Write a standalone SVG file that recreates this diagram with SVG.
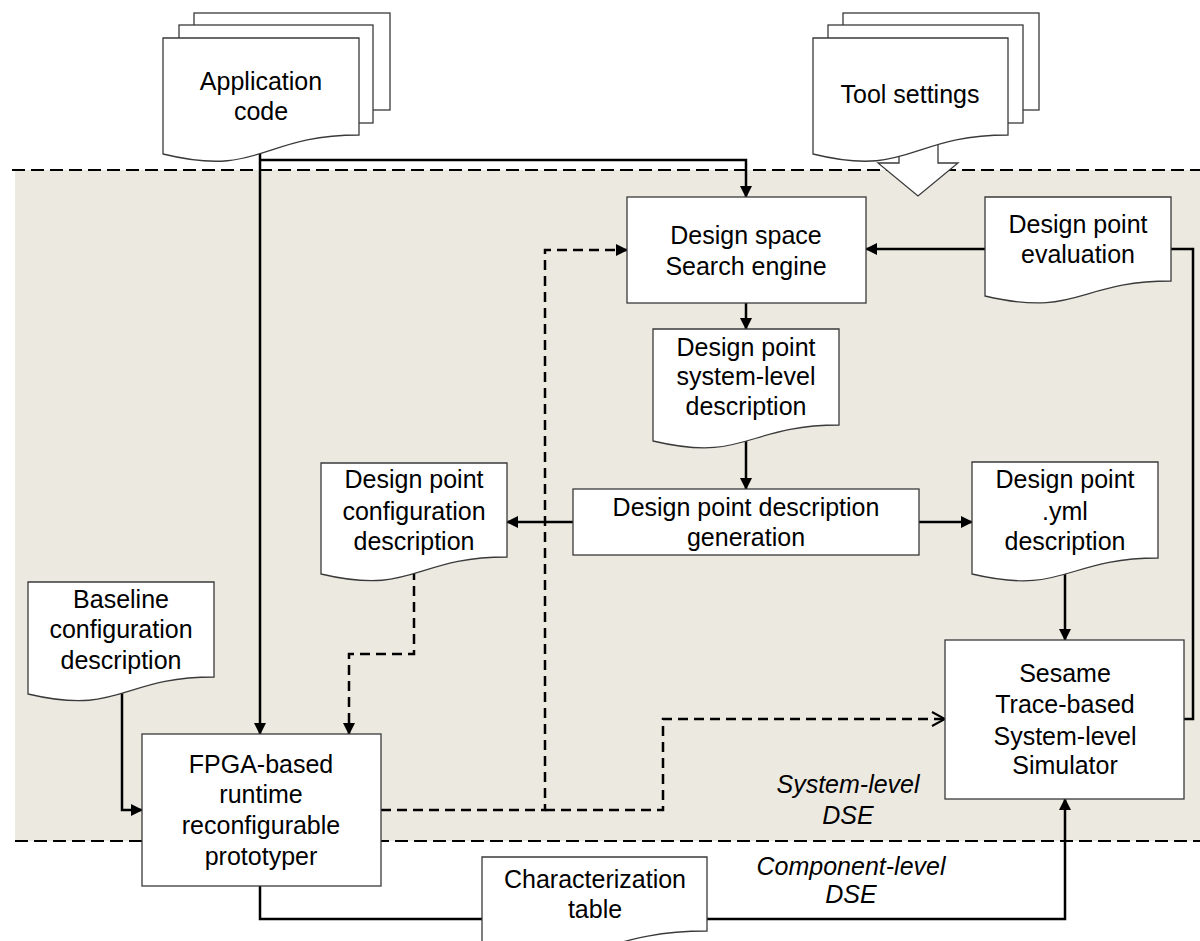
<svg xmlns="http://www.w3.org/2000/svg" width="1200" height="941" viewBox="0 0 1200 941">
  <style>
    .t { font-family: "Liberation Sans", Arial, sans-serif; font-size: 25px; fill: #000; text-anchor: middle; }
    .it { font-family: "Liberation Sans", Arial, sans-serif; font-size: 25px; font-style: italic; fill: #000; text-anchor: middle; }
    .box { fill: #fff; stroke: #3a3a3a; stroke-width: 1.3; }
    .ln { fill: none; stroke: #000; stroke-width: 2.5; }
    .dl { fill: none; stroke: #000; stroke-width: 2.5; stroke-dasharray: 10 6; }
    .bound { fill: none; stroke: #000; stroke-width: 2; stroke-dasharray: 13 6; }
  </style>
  <defs>
    <marker id="ah" viewBox="0 0 12 12" refX="11" refY="6" markerWidth="12" markerHeight="12" markerUnits="userSpaceOnUse" orient="auto">
      <path d="M0,0 L12,6 L0,12 Z" fill="#000"/>
    </marker>
    <marker id="open" viewBox="0 0 16 16" refX="14" refY="8" markerWidth="16" markerHeight="16" markerUnits="userSpaceOnUse" orient="auto">
      <path d="M1,1 L14,8 L1,15" fill="none" stroke="#000" stroke-width="2"/>
    </marker>
  </defs>

  <!-- system-level DSE area -->
  <rect x="15" y="170" width="1185" height="671" fill="#ECE9E0"/>
  <line class="bound" x1="12" y1="170" x2="1200" y2="170"/>
  <line class="bound" x1="15" y1="841" x2="1200" y2="841"/>

  <!-- connectors -->
  <g id="connectors">
    <path class="ln" d="M260,150 V734" marker-end="url(#ah)"/>
    <path class="ln" d="M260,160 H746 V197" marker-end="url(#ah)"/>
    <path class="ln" d="M985,249 H866" marker-end="url(#ah)"/>
    <path class="ln" d="M1184,719 H1193 V249 H1171"/>
    <path class="ln" d="M746,303 V329" marker-end="url(#ah)"/>
    <path class="ln" d="M746,436 V489" marker-end="url(#ah)"/>
    <path class="ln" d="M573,522 H507" marker-end="url(#ah)"/>
    <path class="ln" d="M919,522 H972" marker-end="url(#ah)"/>
    <path class="ln" d="M1065,568 V640" marker-end="url(#ah)"/>
    <path class="dl" d="M414,570 V654 H349 V734" marker-end="url(#ah)"/>
    <path class="ln" d="M122,688 V810 H142" marker-end="url(#ah)"/>
    <path class="dl" d="M381,810 H545 V250 H627" marker-end="url(#ah)"/>
    <path class="dl" d="M545,810 H663 V719 H945" marker-end="url(#open)"/>
    <path class="ln" d="M260,886 V919 H482"/>
    <path class="ln" d="M707,919 H1065 V799" marker-end="url(#ah)"/>
  </g>

  <!-- inputs -->
  <g id="app-code">
    <rect class="box" x="194" y="13" width="196" height="97"/>
    <rect class="box" x="179" y="25" width="194" height="98"/>
    <path class="box" d="M163,38 H359 V135 C261,135 261,178 163,154 Z"/>
    <text class="t" x="261" y="90">Application</text>
    <text class="t" x="261" y="120">code</text>
  </g>

  <g id="tool-settings">
    <path class="box" d="M899,140 V163 H878 L918,196 L958,163 H938 V140"/>
    <rect class="box" x="843" y="13" width="196" height="97"/>
    <rect class="box" x="828" y="25" width="195" height="98"/>
    <path class="box" d="M813,38 H1008 V135 C910,135 910,178 813,154 Z"/>
    <text class="t" x="910" y="103">Tool settings</text>
  </g>

  <!-- search loop -->
  <g id="search-engine">
    <rect class="box" x="627" y="197" width="239" height="106"/>
    <text class="t" x="746" y="244">Design space</text>
    <text class="t" x="746" y="275">Search engine</text>
  </g>

  <g id="evaluation">
    <path class="box" d="M985,197 H1171 V281 C1078,281 1078,318 985,296 Z"/>
    <text class="t" x="1078" y="233">Design point</text>
    <text class="t" x="1078" y="263">evaluation</text>
  </g>

  <g id="system-level-description">
    <path class="box" d="M653,329 H839 V425 C746,425 746,463 653,441 Z"/>
    <text class="t" x="746" y="356">Design point</text>
    <text class="t" x="746" y="385">system-level</text>
    <text class="t" x="746" y="415">description</text>
  </g>

  <g id="description-generation">
    <rect class="box" x="573" y="489" width="346" height="66"/>
    <text class="t" x="746" y="516">Design point description</text>
    <text class="t" x="746" y="546">generation</text>
  </g>

  <g id="configuration-description">
    <path class="box" d="M321,463 H507 V557 C414,557 414,596 321,574 Z"/>
    <text class="t" x="414" y="488">Design point</text>
    <text class="t" x="414" y="520">configuration</text>
    <text class="t" x="414" y="550">description</text>
  </g>

  <g id="yml-description">
    <path class="box" d="M972,462 H1158 V558 C1065,558 1065,596 972,574 Z"/>
    <text class="t" x="1065" y="488">Design point</text>
    <text class="t" x="1065" y="520">.yml</text>
    <text class="t" x="1065" y="550">description</text>
  </g>

  <g id="baseline-configuration">
    <path class="box" d="M28,582 H214 V677 C121,677 121,716 28,694 Z"/>
    <text class="t" x="121" y="608">Baseline</text>
    <text class="t" x="121" y="638">configuration</text>
    <text class="t" x="121" y="669">description</text>
  </g>

  <g id="fpga-prototyper">
    <rect class="box" x="142" y="734" width="239" height="152"/>
    <text class="t" x="261" y="773">FPGA-based</text>
    <text class="t" x="261" y="803">runtime</text>
    <text class="t" x="261" y="834">reconfigurable</text>
    <text class="t" x="261" y="865">prototyper</text>
  </g>

  <g id="sesame-simulator">
    <rect class="box" x="945" y="640" width="239" height="159"/>
    <text class="t" x="1065" y="682">Sesame</text>
    <text class="t" x="1065" y="713">Trace-based</text>
    <text class="t" x="1065" y="745">System-level</text>
    <text class="t" x="1065" y="774">Simulator</text>
  </g>

  <g id="characterization-table">
    <path class="box" d="M482,857 H707 V931 C595,931 595,975 482,951 Z"/>
    <text class="t" x="595" y="888">Characterization</text>
    <text class="t" x="595" y="918">table</text>
  </g>

  <!-- level labels -->
  <g id="labels">
    <text class="it" x="848" y="793">System-level</text>
    <text class="it" x="848" y="824">DSE</text>
    <text class="it" x="851" y="875">Component-level</text>
    <text class="it" x="851" y="903">DSE</text>
  </g>
</svg>
